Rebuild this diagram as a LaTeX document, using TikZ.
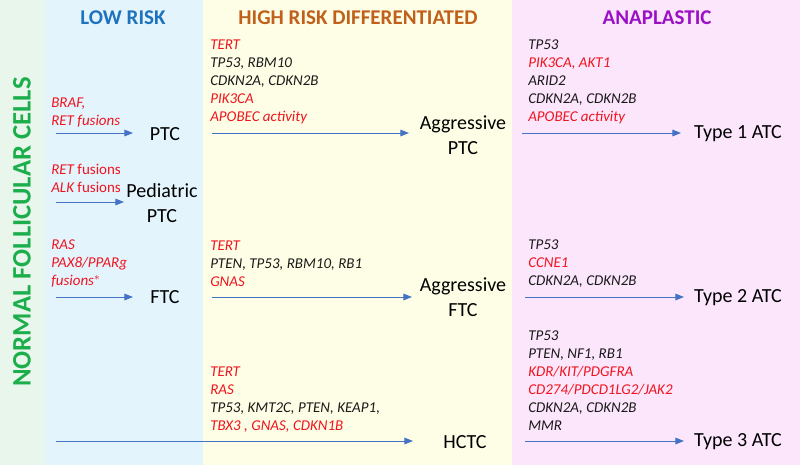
\documentclass[tikz,border=0pt]{standalone}
\usepackage{fontspec}
\setmainfont{Carlito}
\usetikzlibrary{arrows.meta}
\definecolor{bggreen}{HTML}{E8F6EC}
\definecolor{bgblue}{HTML}{E3F4FD}
\definecolor{bgyellow}{HTML}{FEFEE6}
\definecolor{bgpink}{HTML}{FCE6FB}
\definecolor{tblue}{HTML}{1E73BE}
\definecolor{torange}{HTML}{C0601A}
\definecolor{tpurple}{HTML}{9B10C5}
\definecolor{tgreen}{HTML}{1BAE4B}
\definecolor{gred}{HTML}{F0141E}
\definecolor{gblack}{HTML}{1A1A1A}
\definecolor{arrblue}{HTML}{4472C4}
\newcommand{\R}[1]{\textcolor{gred}{#1}}
\newcommand{\K}[1]{\textcolor{gblack}{#1}}
\begin{document}
\begin{tikzpicture}[x=0.75pt,y=-0.75pt,
  gene/.style={anchor=west,inner sep=0pt,align=left,font=\fontsize{11.25}{13.5}\selectfont\itshape},
  big/.style={inner sep=0pt,align=center,text=black,font=\fontsize{15}{18.75}\selectfont},
  title/.style={inner sep=0pt,font=\fontsize{15.75}{18}\selectfont\bfseries},
  arr/.style={draw=arrblue,line width=0.75pt,-{Triangle[length=6.5pt,width=5pt]}}]
\useasboundingbox (0,0) rectangle (800,465);
% backgrounds
\fill[bggreen] (0,0) rectangle (45,465);
\fill[bgblue] (45,0) rectangle (203,465);
\fill[bgyellow] (203,0) rectangle (512,465);
\fill[bgpink] (512,0) rectangle (800,465);
% titles
\node[title,text=tblue] (t1) at (123,18) {LOW RISK};
\node[title,text=torange] (t2) at (358,18) {HIGH RISK DIFFERENTIATED};
\node[title,text=tpurple] (t3) at (657,18) {ANAPLASTIC};
\node[inner sep=0pt,rotate=90,text=tgreen,font=\fontsize{20}{24}\selectfont\bfseries] (nfc) at (22,232) {NORMAL FOLLICULAR CELLS};
% low risk gene blocks
\node[gene] (g1) at (51,112.5) {\R{BRAF,}\\\R{RET fusions}};
\node[gene] (g2) at (51,178) {\R{RET \upshape fusions}\\\R{ALK \upshape fusions}};
\node[gene] (g3) at (51,264) {\R{RAS}\\\R{PAX8/PPARg}\\\R{fusions$^{*}$}};
% high risk gene blocks
\node[gene] (h1) at (210,82) {\R{TERT}\\\K{TP53, RBM10}\\\K{CDKN2A, CDKN2B}\\\R{PIK3CA}\\\R{APOBEC activity}};
\node[gene] (h2) at (210,264) {\R{TERT}\\\K{PTEN, TP53, RBM10, RB1}\\\R{GNAS}};
\node[gene] (h3) at (210,399.5) {\R{TERT}\\\R{RAS}\\\K{TP53, KMT2C, PTEN, KEAP1,}\\\R{TBX3 , GNAS, CDKN1B}};
% anaplastic gene blocks
\node[gene] (a1) at (528,82) {\K{TP53}\\\R{PIK3CA, AKT1}\\\K{ARID2}\\\K{CDKN2A, CDKN2B}\\\R{APOBEC activity}};
\node[gene] (a2) at (528,264) {\K{TP53}\\\R{CCNE1}\\\K{CDKN2A, CDKN2B}};
\node[gene] (a3) at (528,381) {\K{TP53}\\\K{PTEN, NF1, RB1}\\\R{KDR/KIT/PDGFRA}\\\R{CD274/PDCD1LG2/JAK2}\\\K{CDKN2A, CDKN2B}\\\K{MMR}};
% tumour labels
\node[big] (ptc) at (165,134) {PTC};
\node[big] (ped) at (162,203) {Pediatric\\PTC};
\node[big] (ftc) at (165,297) {FTC};
\node[big] (hctc) at (465,442) {HCTC};
\node[big] (aptc) at (463,135) {Aggressive\\PTC};
\node[big] (aftc) at (463,297.5) {Aggressive\\FTC};
\node[big] (atc1) at (738,134) {Type 1 ATC};
\node[big] (atc2) at (738,298) {Type 2 ATC};
\node[big] (atc3) at (738,442) {Type 3 ATC};
% arrow end points
\coordinate (s1) at (56,133);  \coordinate (e1) at (133,133);
\coordinate (s2) at (56,202);  \coordinate (e2) at (124,202);
\coordinate (s3) at (56,297);  \coordinate (e3) at (133,297);
\coordinate (s4) at (56,441);  \coordinate (e4) at (413,441);
\coordinate (s5) at (212,133); \coordinate (e5) at (409,133);
\coordinate (s6) at (212,297); \coordinate (e6) at (412,297);
\coordinate (s7) at (522,133); \coordinate (e7) at (681,133);
\coordinate (s8) at (525,297); \coordinate (e8) at (684,297);
\coordinate (s9) at (525,441); \coordinate (e9) at (684,441);
\draw[arr] (s1) -- (e1);
\draw[arr] (s2) -- (e2);
\draw[arr] (s3) -- (e3);
\draw[arr] (s4) -- (e4);
\draw[arr] (s5) -- (e5);
\draw[arr] (s6) -- (e6);
\draw[arr] (s7) -- (e7);
\draw[arr] (s8) -- (e8);
\draw[arr] (s9) -- (e9);
\end{tikzpicture}
\end{document}
